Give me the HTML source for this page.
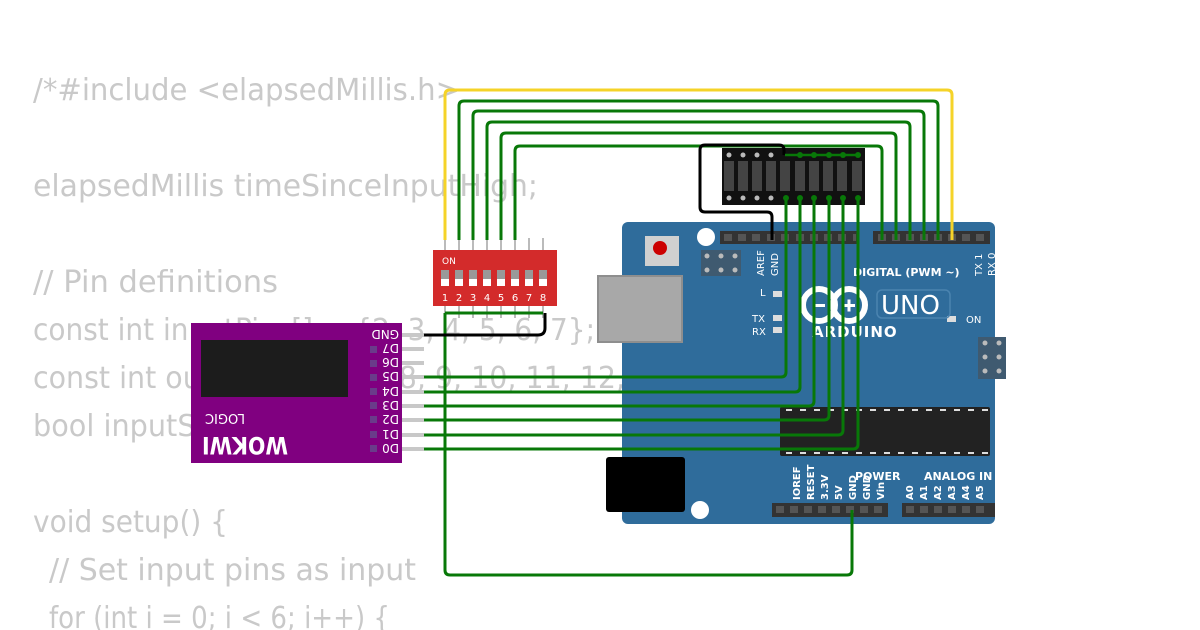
<!DOCTYPE html>
<html><head><meta charset="utf-8"><style>
html,body{margin:0;padding:0;background:#fff;}
svg{display:block;}
</style></head><body>
<svg width="1200" height="630" viewBox="0 0 1200 630" xmlns="http://www.w3.org/2000/svg">
<rect width="1200" height="630" fill="#fff"/>
<!-- code text -->
<g font-family="DejaVu Sans, Liberation Sans, sans-serif" font-size="30" fill="#c9c9c9">
<text x="33" y="100" textLength="427" lengthAdjust="spacingAndGlyphs">/*#include &lt;elapsedMillis.h&gt;</text>
<text x="33" y="196" textLength="505" lengthAdjust="spacingAndGlyphs">elapsedMillis timeSinceInputHigh;</text>
<text x="33" y="292" textLength="245" lengthAdjust="spacingAndGlyphs">// Pin definitions</text>
<text x="33" y="340" textLength="562" lengthAdjust="spacingAndGlyphs">const int inputPins[] = {2, 3, 4, 5, 6, 7};</text>
<text x="33" y="388" textLength="665" lengthAdjust="spacingAndGlyphs">const int outputPins[] = {8, 9, 10, 11, 12, 13};</text>
<text x="33" y="436" textLength="230" lengthAdjust="spacingAndGlyphs">bool inputState;</text>
<text x="33" y="532" textLength="195" lengthAdjust="spacingAndGlyphs">void setup() {</text>
<text x="49" y="580" textLength="367" lengthAdjust="spacingAndGlyphs">// Set input pins as input</text>
<text x="49" y="628" textLength="341" lengthAdjust="spacingAndGlyphs">for (int i = 0; i &lt; 6; i++) {</text>
</g>

<!-- Arduino board -->
<rect x="622" y="222" width="373" height="302" rx="6" fill="#2f6c9b"/>
<rect x="598" y="276" width="84" height="66" fill="#a8a8a8"/>
<rect x="598" y="276" width="84" height="66" fill="none" stroke="#8e8e8e" stroke-width="2"/>
<rect x="606" y="457" width="79" height="55" rx="3" fill="#000"/>
<rect x="645" y="236" width="34" height="30" fill="#d0d0d0"/>
<circle cx="660" cy="248" r="7" fill="#c00"/>
<circle cx="706" cy="237" r="9" fill="#fff"/>
<circle cx="700" cy="510" r="9" fill="#fff"/>
<circle cx="1003" cy="320" r="8" fill="#fff"/>
<circle cx="1003" cy="480" r="8" fill="#fff"/>
<rect x="701" y="250" width="40" height="26" fill="#3f5a70"/>
<g fill="#bbb"><circle cx="707" cy="256" r="2.5"/><circle cx="721" cy="256" r="2.5"/><circle cx="735" cy="256" r="2.5"/><circle cx="707" cy="270" r="2.5"/><circle cx="721" cy="270" r="2.5"/><circle cx="735" cy="270" r="2.5"/></g>
<rect x="978" y="337" width="28" height="42" fill="#3f5a70"/>
<g fill="#bbb"><circle cx="985" cy="343" r="2.5"/><circle cx="985" cy="357" r="2.5"/><circle cx="985" cy="371" r="2.5"/><circle cx="999" cy="343" r="2.5"/><circle cx="999" cy="357" r="2.5"/><circle cx="999" cy="371" r="2.5"/></g>
<!-- headers -->
<rect x="720" y="231" width="137" height="13" fill="#333"/>
<rect x="873" y="231" width="117" height="13" fill="#333"/>
<rect x="772" y="503" width="116" height="14" fill="#333"/>
<rect x="902" y="503" width="93" height="14" fill="#333"/>
<g fill="#555">
<rect x="724" y="234" width="8" height="7"/><rect x="738" y="234" width="8" height="7"/><rect x="752" y="234" width="8" height="7"/><rect x="767" y="234" width="8" height="7"/><rect x="781" y="234" width="8" height="7"/><rect x="796" y="234" width="8" height="7"/><rect x="810" y="234" width="8" height="7"/><rect x="824" y="234" width="8" height="7"/><rect x="838" y="234" width="8" height="7"/><rect x="853" y="234" width="3" height="7"/>
<rect x="878" y="234" width="8" height="7"/><rect x="892" y="234" width="8" height="7"/><rect x="906" y="234" width="8" height="7"/><rect x="920" y="234" width="8" height="7"/><rect x="934" y="234" width="8" height="7"/><rect x="948" y="234" width="8" height="7"/><rect x="962" y="234" width="8" height="7"/><rect x="976" y="234" width="8" height="7"/>
<rect x="776" y="506" width="8" height="7"/><rect x="790" y="506" width="8" height="7"/><rect x="804" y="506" width="8" height="7"/><rect x="818" y="506" width="8" height="7"/><rect x="832" y="506" width="8" height="7"/><rect x="846" y="506" width="8" height="7"/><rect x="860" y="506" width="8" height="7"/><rect x="874" y="506" width="8" height="7"/>
<rect x="906" y="506" width="8" height="7"/><rect x="920" y="506" width="8" height="7"/><rect x="934" y="506" width="8" height="7"/><rect x="948" y="506" width="8" height="7"/><rect x="962" y="506" width="8" height="7"/><rect x="976" y="506" width="8" height="7"/>
</g>
<!-- chip -->
<rect x="780" y="407" width="210" height="49" rx="2" fill="#222"/>
<g stroke="#ddd" stroke-width="2" stroke-dasharray="6,8"><line x1="786" y1="410" x2="988" y2="410"/><line x1="786" y1="453" x2="988" y2="453"/></g>
<!-- board labels -->
<g fill="#fff" font-family="DejaVu Sans, sans-serif" font-weight="bold">
<text x="853" y="276" font-size="11">DIGITAL (PWM ~)</text>
<text x="855" y="480" font-size="11">POWER</text>
<text x="924" y="480" font-size="11">ANALOG IN</text>
<text x="812" y="337" font-size="15" letter-spacing="1">ARDUINO</text>
</g>
<g fill="#fff" font-family="DejaVu Sans, sans-serif" font-size="10">
<text x="760" y="296">L</text><text x="752" y="322">TX</text><text x="752" y="335">RX</text><text x="966" y="323">ON</text>
<text transform="translate(764,276) rotate(-90)">AREF</text>
<text transform="translate(778,276) rotate(-90)">GND</text>
<text transform="translate(982,276) rotate(-90)">TX 1</text>
<text transform="translate(995,276) rotate(-90)">RX 0</text>
</g>
<g fill="#fff" font-family="DejaVu Sans, sans-serif" font-size="10" font-weight="bold">
<text transform="translate(800,500) rotate(-90)">IOREF</text>
<text transform="translate(814,500) rotate(-90)">RESET</text>
<text transform="translate(828,500) rotate(-90)">3.3V</text>
<text transform="translate(842,500) rotate(-90)">5V</text>
<text transform="translate(856,500) rotate(-90)">GND</text>
<text transform="translate(870,500) rotate(-90)">GND</text>
<text transform="translate(884,500) rotate(-90)">Vin</text>
<text transform="translate(913,500) rotate(-90)">A0</text>
<text transform="translate(927,500) rotate(-90)">A1</text>
<text transform="translate(941,500) rotate(-90)">A2</text>
<text transform="translate(955,500) rotate(-90)">A3</text>
<text transform="translate(969,500) rotate(-90)">A4</text>
<text transform="translate(983,500) rotate(-90)">A5</text>
</g>
<g fill="#ddd"><rect x="773" y="291" width="9" height="6"/><rect x="773" y="315" width="9" height="6"/><rect x="773" y="327" width="9" height="6"/><rect x="947" y="316" width="9" height="6"/></g>
<circle cx="819" cy="305" r="16" fill="none" stroke="#fff" stroke-width="6"/>
<circle cx="849" cy="305" r="16" fill="none" stroke="#fff" stroke-width="6"/>
<rect x="813" y="304" width="12" height="3" fill="#fff"/>
<rect x="843" y="304" width="12" height="3" fill="#fff"/><rect x="847.5" y="299.5" width="3" height="12" fill="#fff"/>
<rect x="877" y="290" width="73" height="28" rx="5" fill="none" stroke="#4b84b0" stroke-width="1.5"/>
<text x="881" y="314" fill="#fff" font-family="DejaVu Sans, sans-serif" font-size="26">UNO</text>

<!-- LED bar graph -->
<rect x="722" y="148" width="143" height="57" fill="#111"/>
<g fill="#444">
<rect x="724" y="161" width="10" height="30"/><rect x="738" y="161" width="10" height="30"/><rect x="752" y="161" width="10" height="30"/><rect x="766" y="161" width="10" height="30"/><rect x="780" y="161" width="10" height="30"/><rect x="795" y="161" width="10" height="30"/><rect x="809" y="161" width="10" height="30"/><rect x="823" y="161" width="10" height="30"/><rect x="837" y="161" width="10" height="30"/><rect x="852" y="161" width="10" height="30"/>
</g>
<g fill="#bbb">
<circle cx="729" cy="155" r="2.5"/><circle cx="743" cy="155" r="2.5"/><circle cx="757" cy="155" r="2.5"/><circle cx="771" cy="155" r="2.5"/>
<circle cx="729" cy="198" r="2.5"/><circle cx="743" cy="198" r="2.5"/><circle cx="757" cy="198" r="2.5"/><circle cx="771" cy="198" r="2.5"/>
</g>

<!-- DIP switch -->
<g stroke="#bbb" stroke-width="2">
<line x1="445" y1="238" x2="445" y2="318"/><line x1="459" y1="238" x2="459" y2="318"/><line x1="473" y1="238" x2="473" y2="318"/><line x1="487" y1="238" x2="487" y2="318"/><line x1="501" y1="238" x2="501" y2="318"/><line x1="515" y1="238" x2="515" y2="318"/><line x1="529" y1="238" x2="529" y2="318"/><line x1="543" y1="238" x2="543" y2="318"/>
</g>
<rect x="433" y="250" width="124" height="56" fill="#d32b2b"/>
<text x="442" y="264" fill="#fff" font-family="DejaVu Sans, sans-serif" font-size="9">ON</text>
<g fill="#999">
<rect x="441" y="270" width="8" height="9"/><rect x="455" y="270" width="8" height="9"/><rect x="469" y="270" width="8" height="9"/><rect x="483" y="270" width="8" height="9"/><rect x="497" y="270" width="8" height="9"/><rect x="511" y="270" width="8" height="9"/><rect x="525" y="270" width="8" height="9"/><rect x="539" y="270" width="8" height="9"/>
</g>
<g fill="#fff">
<rect x="441" y="279" width="8" height="7"/><rect x="455" y="279" width="8" height="7"/><rect x="469" y="279" width="8" height="7"/><rect x="483" y="279" width="8" height="7"/><rect x="497" y="279" width="8" height="7"/><rect x="511" y="279" width="8" height="7"/><rect x="525" y="279" width="8" height="7"/><rect x="539" y="279" width="8" height="7"/>
</g>
<g fill="#fff" font-family="DejaVu Sans, sans-serif" font-size="10" text-anchor="middle">
<text x="445" y="301">1</text><text x="459" y="301">2</text><text x="473" y="301">3</text><text x="487" y="301">4</text><text x="501" y="301">5</text><text x="515" y="301">6</text><text x="529" y="301">7</text><text x="543" y="301">8</text>
</g>

<!-- Logic analyzer -->
<g stroke="#c8c8c8" stroke-width="4">
<line x1="400" y1="335" x2="424" y2="335"/><line x1="400" y1="349" x2="424" y2="349"/><line x1="400" y1="363" x2="424" y2="363"/><line x1="400" y1="377" x2="424" y2="377"/><line x1="400" y1="392" x2="424" y2="392"/><line x1="400" y1="406" x2="424" y2="406"/><line x1="400" y1="420" x2="424" y2="420"/><line x1="400" y1="435" x2="424" y2="435"/><line x1="400" y1="449" x2="424" y2="449"/>
</g>
<rect x="191" y="323" width="211" height="140" fill="#800080"/>
<rect x="201" y="340" width="147" height="57" fill="#1c1c1c"/>
<g fill="#6a3b8a">
<rect x="370" y="346" width="7" height="7"/><rect x="370" y="360" width="7" height="7"/><rect x="370" y="374" width="7" height="7"/><rect x="370" y="388" width="7" height="7"/><rect x="370" y="402" width="7" height="7"/><rect x="370" y="416" width="7" height="7"/><rect x="370" y="431" width="7" height="7"/><rect x="370" y="445" width="7" height="7"/>
</g>
<g fill="#fff" font-family="DejaVu Sans, sans-serif" font-size="12">
<text transform="translate(399,330) rotate(180)">GND</text>
<text transform="translate(399,344) rotate(180)">D7</text>
<text transform="translate(399,358) rotate(180)">D6</text>
<text transform="translate(399,372) rotate(180)">D5</text>
<text transform="translate(399,387) rotate(180)">D4</text>
<text transform="translate(399,401) rotate(180)">D3</text>
<text transform="translate(399,415) rotate(180)">D2</text>
<text transform="translate(399,430) rotate(180)">D1</text>
<text transform="translate(399,444) rotate(180)">D0</text>
<text transform="translate(245,414) rotate(180)" font-size="13">LOGIC</text>
<text transform="translate(288,437) rotate(180)" font-size="24" font-weight="bold" textLength="86" lengthAdjust="spacingAndGlyphs">WOKWI</text>
</g>

<!-- wires -->
<g fill="none" stroke-width="3" stroke-linejoin="round">
<path d="M445,240 V95 Q445,90 450,90 H947 Q952,90 952,95 V240" stroke="#f5d328"/>
<path d="M459,240 V106 Q459,101 464,101 H933 Q938,101 938,106 V240" stroke="#087808"/>
<path d="M473,240 V116 Q473,111 478,111 H919 Q924,111 924,116 V240" stroke="#087808"/>
<path d="M487,240 V127 Q487,122 492,122 H905 Q910,122 910,127 V240" stroke="#087808"/>
<path d="M501,240 V138 Q501,133 506,133 H891 Q896,133 896,138 V240" stroke="#087808"/>
<path d="M515,240 V151 Q515,146 520,146 H877 Q882,146 882,151 V240" stroke="#087808"/>
<path d="M772,240 V217 Q772,212 767,212 H705 Q700,212 700,207 V150 Q700,145 705,145 H779 Q784,145 784,150 V155" stroke="#000"/>
<path d="M785,155 H858" stroke="#087808" stroke-width="2.5"/>
<path d="M786,198 V372 Q786,377 781,377 H424" stroke="#087808"/>
<path d="M800,198 V387 Q800,392 795,392 H424" stroke="#087808"/>
<path d="M814,198 V401 Q814,406 809,406 H424" stroke="#087808"/>
<path d="M829,198 V415 Q829,420 824,420 H424" stroke="#087808"/>
<path d="M843,198 V430 Q843,435 838,435 H424" stroke="#087808"/>
<path d="M858,198 V444 Q858,449 853,449 H424" stroke="#087808"/>
<path d="M445,313 V570 Q445,575 450,575 H847 Q852,575 852,570 V510" stroke="#087808"/>
<path d="M445,313 H543" stroke="#087808"/>
<path d="M424,335 H538 Q545,335 545,328 V313" stroke="#000"/>
</g>
<g fill="#087808"><circle cx="786" cy="198" r="3"/><circle cx="800" cy="198" r="3"/><circle cx="814" cy="198" r="3"/><circle cx="829" cy="198" r="3"/><circle cx="843" cy="198" r="3"/><circle cx="858" cy="198" r="3"/>
<circle cx="800" cy="155" r="3"/><circle cx="814" cy="155" r="3"/><circle cx="829" cy="155" r="3"/><circle cx="843" cy="155" r="3"/><circle cx="858" cy="155" r="3"/></g>
</svg>
</body></html>
